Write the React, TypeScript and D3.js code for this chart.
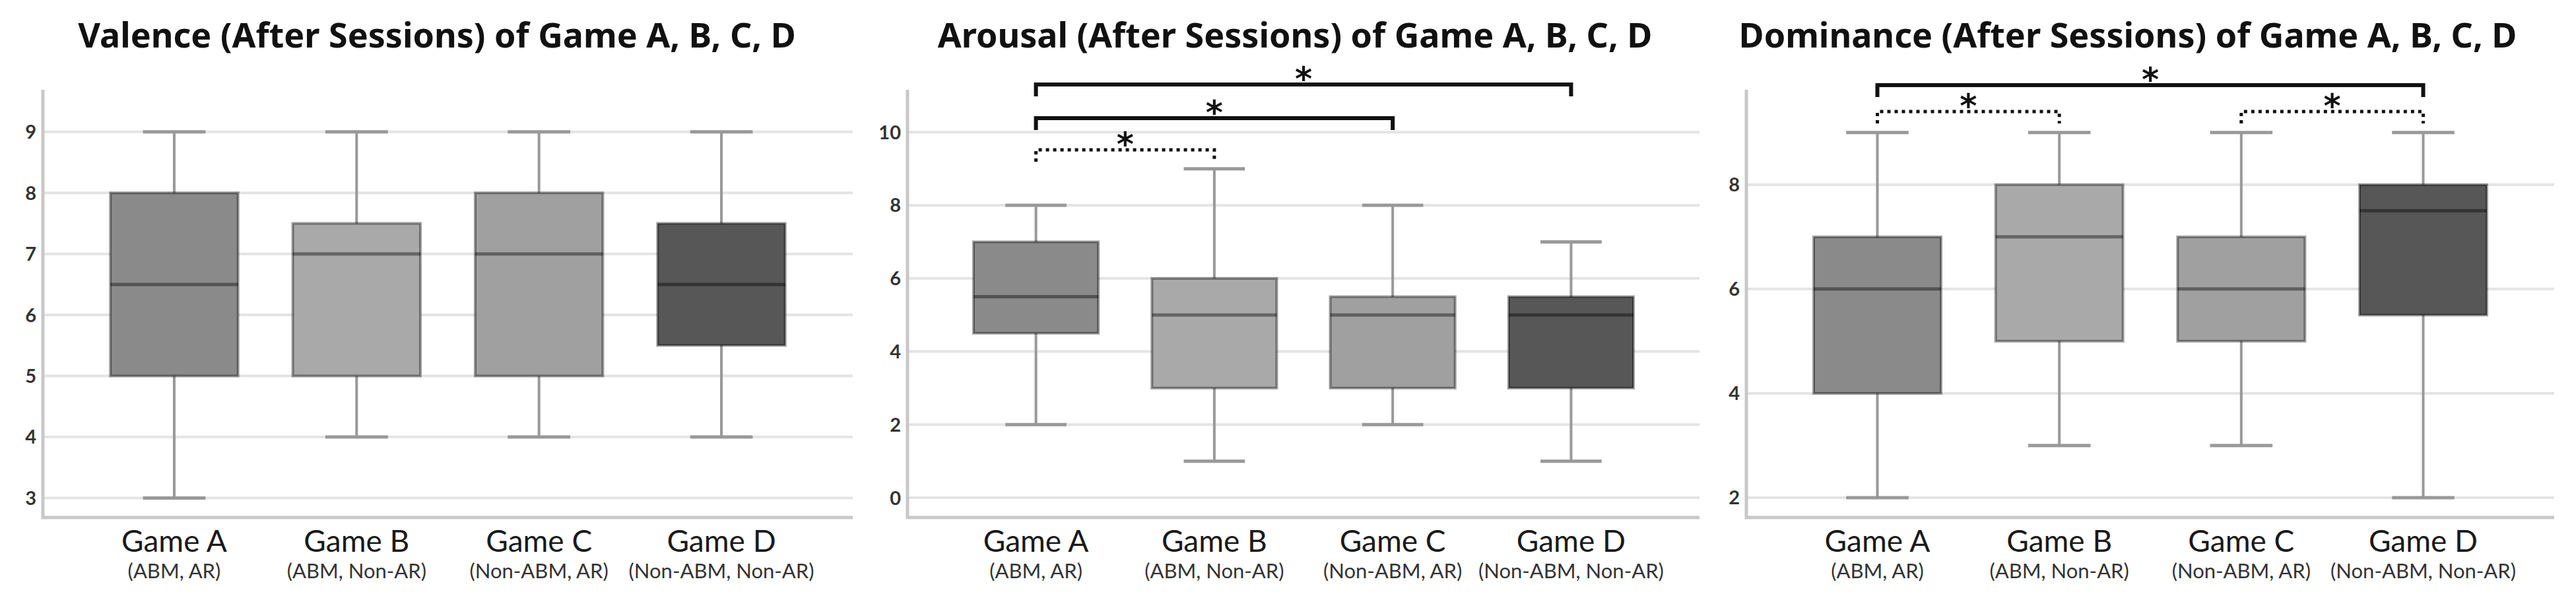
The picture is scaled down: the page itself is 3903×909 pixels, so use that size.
import * as d3 from 'd3';
import { useEffect } from 'react';

type BoxStat = { min: number; q1: number; median: number; q3: number; max: number };
type Sig = { from: number; to: number; dotted: boolean; level: number };

// categories
const games = ['Game A', 'Game B', 'Game C', 'Game D'];
const conditions = ['(ABM, AR)', '(ABM, Non-AR)', '(Non-ABM, AR)', '(Non-ABM, Non-AR)'];
const fills = ['#8a8a8a', '#a9a9a9', '#a0a0a0', '#575757'];

// box stats
const valence: BoxStat[] = [
  { min: 3, q1: 5, median: 6.5, q3: 8, max: 9 },
  { min: 4, q1: 5, median: 7, q3: 7.5, max: 9 },
  { min: 4, q1: 5, median: 7, q3: 8, max: 9 },
  { min: 4, q1: 5.5, median: 6.5, q3: 7.5, max: 9 },
];
const arousal: BoxStat[] = [
  { min: 2, q1: 4.5, median: 5.5, q3: 7, max: 8 },
  { min: 1, q1: 3, median: 5, q3: 6, max: 9 },
  { min: 2, q1: 3, median: 5, q3: 5.5, max: 8 },
  { min: 1, q1: 3, median: 5, q3: 5.5, max: 7 },
];
const dominance: BoxStat[] = [
  { min: 2, q1: 4, median: 6, q3: 7, max: 9 },
  { min: 3, q1: 5, median: 7, q3: 8, max: 9 },
  { min: 3, q1: 5, median: 6, q3: 7, max: 9 },
  { min: 2, q1: 5.5, median: 7.5, q3: 8, max: 9 },
];

const valenceTicks = [3, 4, 5, 6, 7, 8, 9];
const arousalTicks = [0, 2, 4, 6, 8, 10];
const dominanceTicks = [2, 4, 6, 8];

const valenceDomain: [number, number] = [2.68, 9.69];
const arousalDomain: [number, number] = [-0.54, 11.16];
const dominanceDomain: [number, number] = [1.62, 9.82];

// significance brackets (index into games)
const valenceSig: Sig[] = [];
const arousalSig: Sig[] = [
  { from: 0, to: 3, dotted: false, level: 0 },
  { from: 0, to: 2, dotted: false, level: 1 },
  { from: 0, to: 1, dotted: true, level: 2 },
];
const dominanceSig: Sig[] = [
  { from: 0, to: 3, dotted: false, level: 0 },
  { from: 0, to: 1, dotted: true, level: 1 },
  { from: 2, to: 3, dotted: true, level: 1 },
];

const W = 3903;
const H = 909;
const TOP = 136;
const BOTTOM = 784;
const FONT = 'Lato, "Noto Sans", sans-serif';
const TITLE_FONT = '"Noto Sans", Lato, sans-serif';

type PanelProps = {
  title: string;
  titleX: number;
  left: number;
  right: number;
  domain: [number, number];
  ticks: number[];
  stats: BoxStat[];
  sig: Sig[];
  levels: number[];
};

const Panel = ({ title, titleX, left, right, domain, ticks, stats, sig, levels }: PanelProps) => {
  const y = d3.scaleLinear().domain(domain).range([BOTTOM, TOP]);
  const x = d3.scaleBand<string>().domain(games).range([left, right]).paddingInner(0.3).paddingOuter(0.37);
  const bw = x.bandwidth();
  const cx = (i: number) => (x(games[i]) ?? 0) + bw / 2;
  const cap = bw * 0.49;

  return (
    <g>
      <text
        x={titleX}
        y={72}
        textAnchor="middle"
        fontFamily={TITLE_FONT}
        fontWeight={700}
        fontSize={52}
        fill="#111"
      >
        {title}
      </text>

      {/* grid */}
      {ticks.map((t) => (
        <line key={'g' + t} x1={left} x2={right} y1={y(t)} y2={y(t)} stroke="#e4e4e4" strokeWidth={4} />
      ))}
      {ticks.map((t) => (
        <text
          key={'t' + t}
          x={left - 10}
          y={y(t)}
          dy="0.36em"
          textAnchor="end"
          fontFamily={FONT}
          fontWeight={700}
          fontSize={29}
          fill="#333"
        >
          {t}
        </text>
      ))}

      {/* axes */}
      <path d={`M${left},${TOP} V${BOTTOM} H${right}`} fill="none" stroke="#c8c8c8" strokeWidth={5} />

      {/* boxes */}
      {stats.map((s, i) => {
        const c = cx(i);
        const x0 = x(games[i]) ?? 0;
        return (
          <g key={'b' + i}>
            <line x1={c} x2={c} y1={y(s.max)} y2={y(s.min)} stroke="#999" strokeWidth={4} />
            <line x1={c - cap / 2} x2={c + cap / 2} y1={y(s.max)} y2={y(s.max)} stroke="#999" strokeWidth={5} />
            <line x1={c - cap / 2} x2={c + cap / 2} y1={y(s.min)} y2={y(s.min)} stroke="#999" strokeWidth={5} />
            <rect
              x={x0}
              y={y(s.q3)}
              width={bw}
              height={y(s.q1) - y(s.q3)}
              fill={fills[i]}
              stroke="rgba(0,0,0,0.38)"
              strokeWidth={4}
            />
            <line
              x1={x0}
              x2={x0 + bw}
              y1={y(s.median)}
              y2={y(s.median)}
              stroke="rgba(0,0,0,0.4)"
              strokeWidth={5}
            />
          </g>
        );
      })}

      {/* category labels */}
      {games.map((g, i) => (
        <g key={'l' + g}>
          <text x={cx(i)} y={836} textAnchor="middle" fontFamily={FONT} fontSize={46} fill="#1a1a1a">
            {g}
          </text>
          <text x={cx(i)} y={876} textAnchor="middle" fontFamily={FONT} fontSize={31} fill="#333">
            {conditions[i]}
          </text>
        </g>
      ))}

      {/* significance */}
      {sig.map((s, k) => {
        const by = levels[s.level];
        const x1 = cx(s.from);
        const x2 = cx(s.to);
        return (
          <g key={'s' + k}>
            <path
              d={`M${x1},${by + 18} V${by} H${x2} V${by + 18}`}
              fill="none"
              stroke="#111"
              strokeWidth={s.dotted ? 5 : 6}
              strokeDasharray={s.dotted ? '5 6' : undefined}
            />
            <text
              x={(x1 + x2) / 2}
              y={by + 9}
              textAnchor="middle"
              fontFamily='"DejaVu Sans", sans-serif'
              fontWeight={700}
              fontSize={50}
              fill="#111"
            >
              *
            </text>
          </g>
        );
      })}
    </g>
  );
};

export default function App() {
  useEffect(() => {
    document.body.style.margin = '0';
  }, []);

  return (
    <svg width={W} height={H} style={{ display: 'block', background: '#fff' }}>
      <rect width={W} height={H} fill="#fff" />
      <Panel
        title="Valence (After Sessions) of Game A, B, C, D"
        titleX={662}
        left={65}
        right={1292}
        domain={valenceDomain}
        ticks={valenceTicks}
        stats={valence}
        sig={valenceSig}
        levels={[]}
      />
      <Panel
        title="Arousal (After Sessions) of Game A, B, C, D"
        titleX={1962}
        left={1375}
        right={2575}
        domain={arousalDomain}
        ticks={arousalTicks}
        stats={arousal}
        sig={arousalSig}
        levels={[128, 179, 227]}
      />
      <Panel
        title="Dominance (After Sessions) of Game A, B, C, D"
        titleX={3224}
        left={2646}
        right={3870}
        domain={dominanceDomain}
        ticks={dominanceTicks}
        stats={dominance}
        sig={dominanceSig}
        levels={[129, 169]}
      />
    </svg>
  );
}
